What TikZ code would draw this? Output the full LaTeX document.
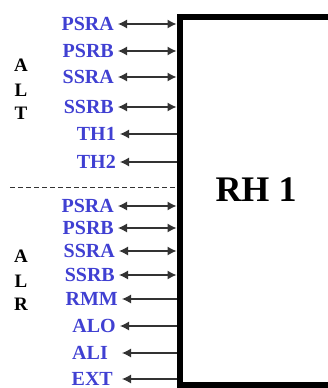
\documentclass[tikz,border=0pt]{standalone}
\usepackage{fontspec}
\setmainfont{Liberation Serif}
\usetikzlibrary{arrows.meta,positioning}
\definecolor{sigblue}{RGB}{64,64,210}
\tikzset{
  sig/.style  = {anchor=east, inner xsep=2pt, inner ysep=0pt, text=sigblue,
                 font=\fontsize{20}{20}\selectfont\bfseries},
  grp/.style  = {inner sep=0pt, font=\fontsize{19}{19}\selectfont\bfseries},
  wire/.style = {draw=black!80, line width=1.2pt, shorten <=2pt},
  >={Latex[length=9pt,width=9pt]}
}

\begin{document}
\begin{tikzpicture}[x=1pt,y=-1pt]
\useasboundingbox (0,0) rectangle (327,388);

\node (rh) [draw, line width=6pt, inner sep=0pt,
            minimum width=221pt, minimum height=368pt] at (290,200.5) {};
\node (title) [font=\fontsize{36}{36}\selectfont\bfseries] at (256,190) {RH 1};

% ALT
\node (A1) [grp] at (21,65)  {A};
\node (L1) [grp] at (21,90)  {L};
\node (T1) [grp] at (21,113) {T};

\node (psra1) [sig] at (116,24)  {PSRA};
\node (psrb1) [sig] at (116,51)  {PSRB};
\node (ssra1) [sig] at (116,77)  {SSRA};
\node (ssrb1) [sig] at (116,107) {SSRB};
\node (th1)   [sig] at (118,134) {TH1};
\node (th2)   [sig] at (118,162) {TH2};

\draw[wire,<->] (psra1.east) -- (psra1.east -| rh.west);
\draw[wire,<->] (psrb1.east) -- (psrb1.east -| rh.west);
\draw[wire,<->] (ssra1.east) -- (ssra1.east -| rh.west);
\draw[wire,<->] (ssrb1.east) -- (ssrb1.east -| rh.west);
\draw[wire,<-]  (th1.east)   -- (th1.east -| rh.west);
\draw[wire,<-]  (th2.east)   -- (th2.east -| rh.west);

% split
\coordinate (cut) at (10,187);
\draw[black!80, line width=0.8pt, dash pattern=on 5pt off 3pt] (cut) -- (cut -| rh.west);

% ALR
\node (A2) [grp] at (21,256) {A};
\node (L2) [grp] at (21,281) {L};
\node (R2) [grp] at (21,304) {R};

\node (psra2) [sig] at (116,206) {PSRA};
\node (psrb2) [sig] at (116,228) {PSRB};
\node (ssra2) [sig] at (117,251) {SSRA};
\node (ssrb2) [sig] at (117,275) {SSRB};
\node (rmm)   [sig] at (120,299) {RMM};
\node (alo)   [sig] at (118,326) {ALO};
\node (ali)   [sig] at (110,353) {ALI};
\node (ext)   [sig] at (115,379) {EXT};

\draw[wire,<->] (psra2.east) -- (psra2.east -| rh.west);
\draw[wire,<->] (psrb2.east) -- (psrb2.east -| rh.west);
\draw[wire,<->] (ssra2.east) -- (ssra2.east -| rh.west);
\draw[wire,<->] (ssrb2.east) -- (ssrb2.east -| rh.west);
\draw[wire,<-]  (rmm.east)   -- (rmm.east -| rh.west);
\draw[wire,<-]  (alo.east)   -- (alo.east -| rh.west);
\draw[wire,<-,shorten <=12pt] (ali.east) -- (ali.east -| rh.west);
\draw[wire,<-,shorten <=7pt]  (ext.east) -- (ext.east -| rh.west);
\end{tikzpicture}
\end{document}
